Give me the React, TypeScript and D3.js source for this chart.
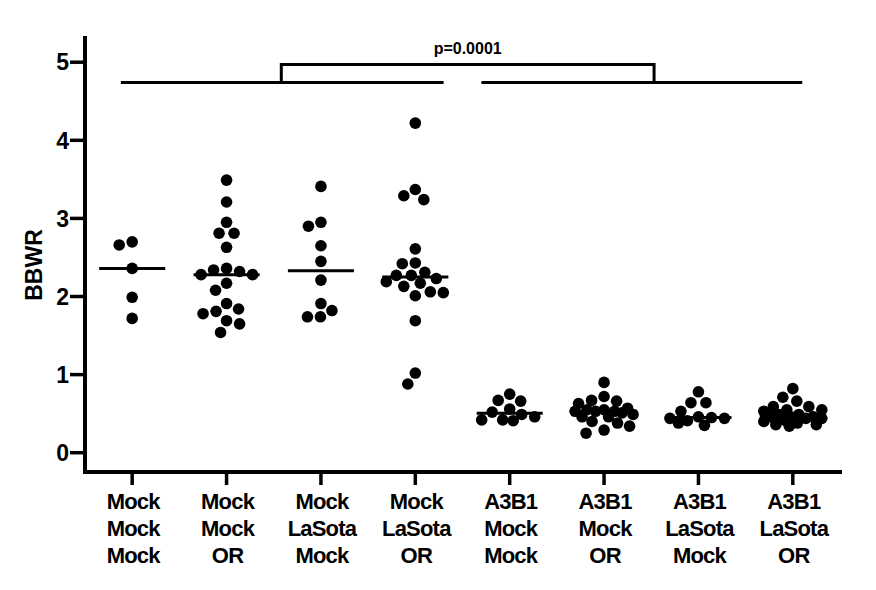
import React from "react";
import * as d3 from "d3";

const line1 = ["Mock", "Mock", "Mock", "Mock", "A3B1", "A3B1", "A3B1", "A3B1"];
const line2 = ["Mock", "Mock", "LaSota", "LaSota", "Mock", "Mock", "LaSota", "LaSota"];
const line3 = ["Mock", "OR", "Mock", "OR", "Mock", "OR", "Mock", "OR"];

const g1 = [2.70, 2.66, 2.36, 1.99, 1.72];
const g2 = [3.49, 3.21, 2.95, 2.81, 2.81, 2.63, 2.36, 2.34, 2.32, 2.28, 2.28, 2.17, 2.08, 1.91, 1.84, 1.81, 1.78, 1.69, 1.65, 1.54];
const g3 = [3.41, 2.95, 2.90, 2.65, 2.45, 2.21, 1.91, 1.82, 1.74, 1.74];
const g4 = [4.22, 3.37, 3.29, 3.24, 2.61, 2.43, 2.42, 2.31, 2.27, 2.27, 2.23, 2.19, 2.17, 2.13, 2.06, 2.05, 2.01, 1.69, 1.02, 0.88];
const g5 = [0.75, 0.67, 0.66, 0.56, 0.52, 0.49, 0.46, 0.42, 0.42, 0.41];
const g6 = [0.90, 0.72, 0.67, 0.66, 0.63, 0.57, 0.55, 0.55, 0.53, 0.53, 0.53, 0.51, 0.49, 0.46, 0.46, 0.40, 0.38, 0.34, 0.29, 0.25];
const g7 = [0.78, 0.64, 0.64, 0.53, 0.46, 0.45, 0.44, 0.44, 0.41, 0.38, 0.35];
const g8 = [0.82, 0.71, 0.66, 0.59, 0.59, 0.55, 0.55, 0.53, 0.49, 0.49, 0.46, 0.46, 0.46, 0.44, 0.44, 0.42, 0.40, 0.38, 0.36, 0.36, 0.34];
const groups = [g1, g2, g3, g4, g5, g6, g7, g8];

const yTicks = [0, 1, 2, 3, 4, 5];
const yLabel = "BBWR";
const pLabel = "p=0.0001";

const W = 876, H = 590;
const FONT = "'Liberation Sans', Arial, Helvetica, sans-serif";

function swarm(vals: number[], y: (v: number) => number, dist: number, maxOff: number) {
  const placed: { x: number; y: number; v: number }[] = [];
  const sorted = [...vals].sort((a, b) => b - a);
  let side = 1;
  for (const v of sorted) {
    const py = y(v);
    let best: number | null = null;
    let fallback = 0, fallbackScore = -1;
    const n = Math.floor(maxOff / 0.5) * 2 + 1;
    for (let k = 0; k < n; k++) {
      const mag = Math.ceil(k / 2) * 0.5;
      const off = k === 0 ? 0 : (k % 2 === 1 ? -side * mag : side * mag);
      const minD = placed.length ? d3.min(placed, (p) => Math.hypot(p.x - off, p.y - py))! : Infinity;
      if (minD >= dist) { best = off; break; }
      if (minD > fallbackScore + 0.01) { fallbackScore = minD; fallback = off; }
    }
    const off = best === null ? fallback : best;
    if (off !== 0) side = -side;
    placed.push({ x: off, y: py, v });
  }
  return placed;
}

export default function App() {
  const x0 = 85, x1 = 840, yTop = 38, yBot = 472;
  const x = d3.scalePoint<number>().domain(d3.range(8)).range([x0, x1]).padding(0.5);
  const step = x.step();
  const y = d3.scaleLinear().domain([-0.247, 5.31]).range([yBot, yTop]);
  const R = 5.8;
  const lineY = y(4.74);
  const brY = y(4.97);
  const leftA = x(0)! - 0.12 * step, leftB = x(3)! + 0.3 * step;
  const rightA = x(4)! - 0.3 * step, rightB = x(7)! + 0.1 * step;
  const brL = x(1)! + 0.58 * step;
  const brR = x(5)! + 0.53 * step;

  return (
    <svg width={W} height={H} style={{ position: "absolute", left: 0, top: 0, background: "#fff" }} fontFamily={FONT}>
      <rect width={W} height={H} fill="#fff" />
      {/* axes */}
      <path d={`M${x0},${yTop}V${yBot}H${x1}`} fill="none" stroke="#000" strokeWidth={4} strokeLinecap="square" />
      {yTicks.map((t) => (
        <g key={t}>
          <line x1={x0 - 15} x2={x0} y1={y(t)} y2={y(t)} stroke="#000" strokeWidth={3.5} />
          <text x={x0 - 16} y={y(t)} dy="0.36em" textAnchor="end" fontSize={23} fontWeight="bold">{t}</text>
        </g>
      ))}
      <text transform={`translate(42,265) rotate(-90)`} textAnchor="middle" fontSize={23} fontWeight="bold">{yLabel}</text>
      {line1.map((_, i) => (
        <g key={i}>
          <line x1={x(i)} x2={x(i)} y1={yBot} y2={yBot + 13} stroke="#000" strokeWidth={3.5} />
          {[line1[i], line2[i], line3[i]].map((s, j) => (
            <text key={j} x={x(i)! + 1} y={509 + j * 27} textAnchor="middle" fontSize={22} fontWeight="bold" letterSpacing={-0.8}>{s}</text>
          ))}
        </g>
      ))}
      {/* data */}
      {groups.map((g, i) => {
        const pts = swarm(g, (v) => y(v), 13, 29);
        const med = d3.median(g)!;
        return (
          <g key={i}>
            {pts.map((p, k) => (
              <circle key={k} cx={x(i)! + p.x} cy={p.y} r={R} fill="#000" />
            ))}
            <line x1={x(i)! - 0.35 * step} x2={x(i)! + 0.35 * step} y1={y(med)} y2={y(med)} stroke="#000" strokeWidth={3} />
          </g>
        );
      })}
      {/* significance */}
      <line x1={leftA} x2={leftB} y1={lineY} y2={lineY} stroke="#000" strokeWidth={3} />
      <line x1={rightA} x2={rightB} y1={lineY} y2={lineY} stroke="#000" strokeWidth={3} />
      <path d={`M${brL},${lineY}V${brY}H${brR}V${lineY}`} fill="none" stroke="#000" strokeWidth={3} />
      <text x={(brL + brR) / 2} y={brY - 11} textAnchor="middle" fontSize={16} fontWeight="bold">{pLabel}</text>
    </svg>
  );
}
